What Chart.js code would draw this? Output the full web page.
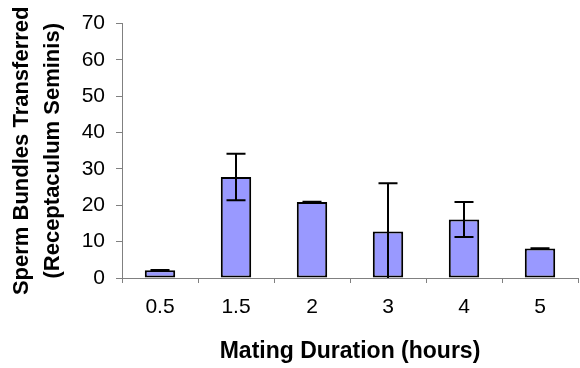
<!DOCTYPE html>
<html>
<head>
<meta charset="utf-8">
<script src="https://cdn.jsdelivr.net/npm/chart.js@4"></script>
<style>
  body { margin: 0; background: #fff; }
  #wrap { width: 580px; height: 368px; }
</style>
</head>
<body>
<div id="wrap"><canvas id="grafico" width="580" height="368"></canvas></div>
<script>
// datos
const duraciones = ['0.5', '1.5', '2', '3', '4', '5'];
const espermatoforos = [2.1, 27.8, 20.9, 12.8, 16.1, 8.1];
const errores = [0.1, 6.4, 0.1, 13.3, 4.8, 0.1];
const tituloY = ['Sperm Bundles Transferred', '(Receptaculum Seminis)'];
const tituloX = 'Mating Duration (hours)';

const fuente = 'Liberation Sans, Arial, sans-serif';

// barras de error dibujadas con las escalas del grafico
const barrasError = {
        id: 'barrasError',
        afterDatasetsDraw(chart) {
                const ctx = chart.ctx;
                const y = chart.scales.y;
                const meta = chart.getDatasetMeta(0);
                const area = chart.chartArea;
                ctx.save();
                ctx.beginPath();
                ctx.rect(area.left, area.top, area.right - area.left, area.bottom - area.top);
                ctx.clip();
                ctx.strokeStyle = '#000';
                ctx.lineWidth = 2;
                meta.data.forEach((barra, i) => {
                        const x = barra.x;
                        const arriba = y.getPixelForValue(espermatoforos[i] + errores[i]);
                        const abajo = y.getPixelForValue(espermatoforos[i] - errores[i]);
                        ctx.beginPath();
                        ctx.moveTo(x, arriba);
                        ctx.lineTo(x, abajo);
                        ctx.moveTo(x - 9.5, arriba);
                        ctx.lineTo(x + 9.5, arriba);
                        ctx.moveTo(x - 9.5, abajo);
                        ctx.lineTo(x + 9.5, abajo);
                        ctx.stroke();
                });
                ctx.restore();
        }
};

new Chart(document.getElementById('grafico'), {
        type: 'bar',
        data: {
                labels: duraciones,
                datasets: [{
                        data: espermatoforos,
                        backgroundColor: '#9999FF',
                        borderColor: '#000',
                        borderWidth: 2,
                        borderSkipped: false,
                        categoryPercentage: 1,
                        barPercentage: 0.4
                }]
        },
        options: {
                responsive: false,
                animation: false,
                layout: { padding: { top: 16, right: 2, left: 0, bottom: 0 } },
                plugins: {
                        legend: { display: false },
                        tooltip: { enabled: false }
                },
                scales: {
                        x: {
                                afterFit: (s) => { s.height = 90; },
                                grid: { drawOnChartArea: false, drawTicks: true, tickLength: 5, color: '#808080', offset: true },
                                border: { display: true, color: '#808080', width: 1 },
                                ticks: { color: '#000', padding: 12, font: { family: fuente, size: 21 } },
                                title: {
                                        display: true,
                                        text: tituloX,
                                        color: '#000',
                                        padding: { top: 0, bottom: 3 },
                                        font: { family: fuente, size: 23, weight: 'bold', lineHeight: 1.2 }
                                }
                        },
                        y: {
                                min: 0,
                                max: 70,
                                afterFit: (s) => { s.width = 122; },
                                grid: { drawOnChartArea: false, drawTicks: true, tickLength: 6, color: '#808080' },
                                border: { display: true, color: '#808080', width: 1 },
                                ticks: { stepSize: 10, color: '#000', padding: 11, font: { family: fuente, size: 21 } },
                                title: {
                                        display: true,
                                        text: tituloY,
                                        color: '#000',
                                        padding: { top: 7, bottom: 0 },
                                        font: { family: fuente, size: 22, weight: 'bold', lineHeight: 1.4 }
                                }
                        }
                }
        },
        plugins: [barrasError]
});
</script>
</body>
</html>
